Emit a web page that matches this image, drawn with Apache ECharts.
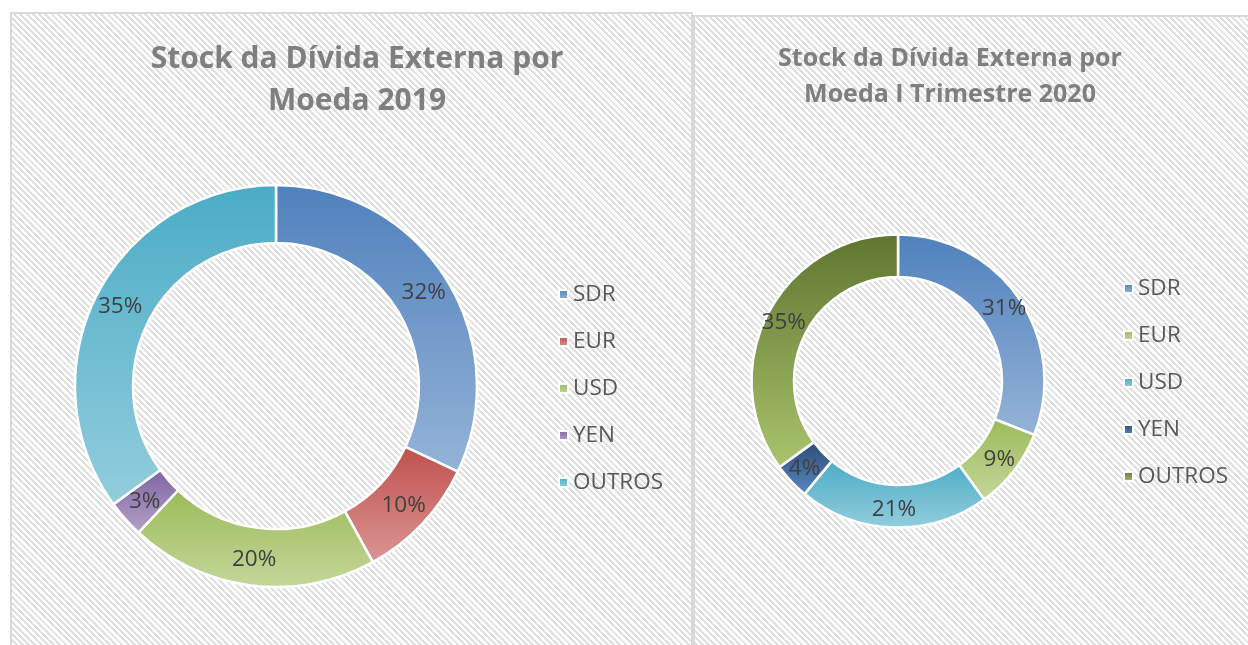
<!DOCTYPE html>
<html>
<head>
<meta charset="utf-8">
<script src="https://cdn.jsdelivr.net/npm/echarts@6/dist/echarts.min.js"></script>
<style>
  html, body { margin: 0; padding: 0; background: #fff; }
  #wrap { position: relative; width: 1248px; height: 645px; overflow: hidden; }
  .panel {
    position: absolute;
    box-sizing: border-box;
    border: 2px solid #d9d9d9;
    background: repeating-linear-gradient(45deg, #ffffff 0px, #ffffff 2.4px, #e0e0e0 2.4px, #e0e0e0 4.4px);
  }
  .chart { position: absolute; top: 0; height: 645px; }
</style>
</head>
<body>
<div id="wrap">
  <div class="panel" style="left:10px; top:12px; width:683px; height:660px"></div>
  <div class="panel" style="left:693px; top:15px; width:580px; height:660px"></div>
  <div id="left" class="chart" style="left:0; width:694px"></div>
  <div id="right" class="chart" style="left:694px; width:554px"></div>
</div>
<script>
// dados
var moedas = ['SDR', 'EUR', 'USD', 'YEN', 'OUTROS'];
var valores2019 = [32, 10, 20, 3, 35];
var valores2020 = [31, 9, 21, 4, 35];

// cores: topo escuro -> base clara
var cores2019 = [['#4f81bd', '#95b3d7'], ['#c0504d', '#da9694'], ['#9bbb59', '#c4d79b'], ['#8064a2', '#b3a2c7'], ['#4bacc6', '#93cddd']];
var cores2020 = [['#4f81bd', '#95b3d7'], ['#9bbb59', '#c4d79b'], ['#4bacc6', '#93cddd'], ['#2c4d75', '#5a87c2'], ['#5f7530', '#a9c46d']];

function grad(c) {
  return { type: 'linear', x: 0, y: 0, x2: 0, y2: 1, colorStops: [{ offset: 0, color: c[0] }, { offset: 1, color: c[1] }] };
}

function montaDados(valores, cores) {
  return moedas.map(function (m, i) {
    return { name: m, value: valores[i], itemStyle: { color: grad(cores[i]) } };
  });
}

function opcao(titulo, tamTitulo, alturaLinha, tituloX, tituloTop, centro, raio, legX, legTop, valores, cores) {
  return {
    animation: false,
    backgroundColor: 'transparent',
    title: {
      text: titulo,
      left: tituloX,
      top: tituloTop,
      textAlign: 'center',
      textStyle: { fontFamily: 'Open Sans', fontWeight: 'bold', fontSize: tamTitulo, lineHeight: alturaLinha, color: '#7f7f7f' }
    },
    legend: {
      orient: 'vertical',
      left: legX,
      top: legTop,
      itemWidth: 9,
      itemHeight: 9,
      itemGap: 24,
      icon: 'rect',
      textStyle: { fontFamily: 'Open Sans', fontSize: 22.5, lineHeight: 23, color: '#595959' },
      data: moedas
    },
    series: [{
      type: 'pie',
      center: centro,
      radius: raio,
      startAngle: 90,
      clockwise: true,
      avoidLabelOverlap: false,
      itemStyle: { borderColor: '#ffffff', borderWidth: 2.5 },
      label: {
        show: true,
        position: 'inside',
        fontFamily: 'Open Sans',
        fontSize: 22.5,
        color: '#404040',
        formatter: function (p) { return p.value + '%'; }
      },
      labelLine: { show: false },
      emphasis: { scale: false },
      data: montaDados(valores, cores)
    }]
  };
}

var chartE = echarts.init(document.getElementById('left'));
chartE.setOption(opcao('Stock da Dívida Externa por\nMoeda 2019', 30, 42, 352, 33,
  [276, 386], [143, 201], 553, 278, valores2019, cores2019));

var chartD = echarts.init(document.getElementById('right'));
chartD.setOption(opcao('Stock da Dívida Externa por\nMoeda I Trimestre 2020', 25, 36, 251, 36,
  [204, 381], [104, 146.5], 424, 272, valores2020, cores2020));
</script>
</body>
</html>
